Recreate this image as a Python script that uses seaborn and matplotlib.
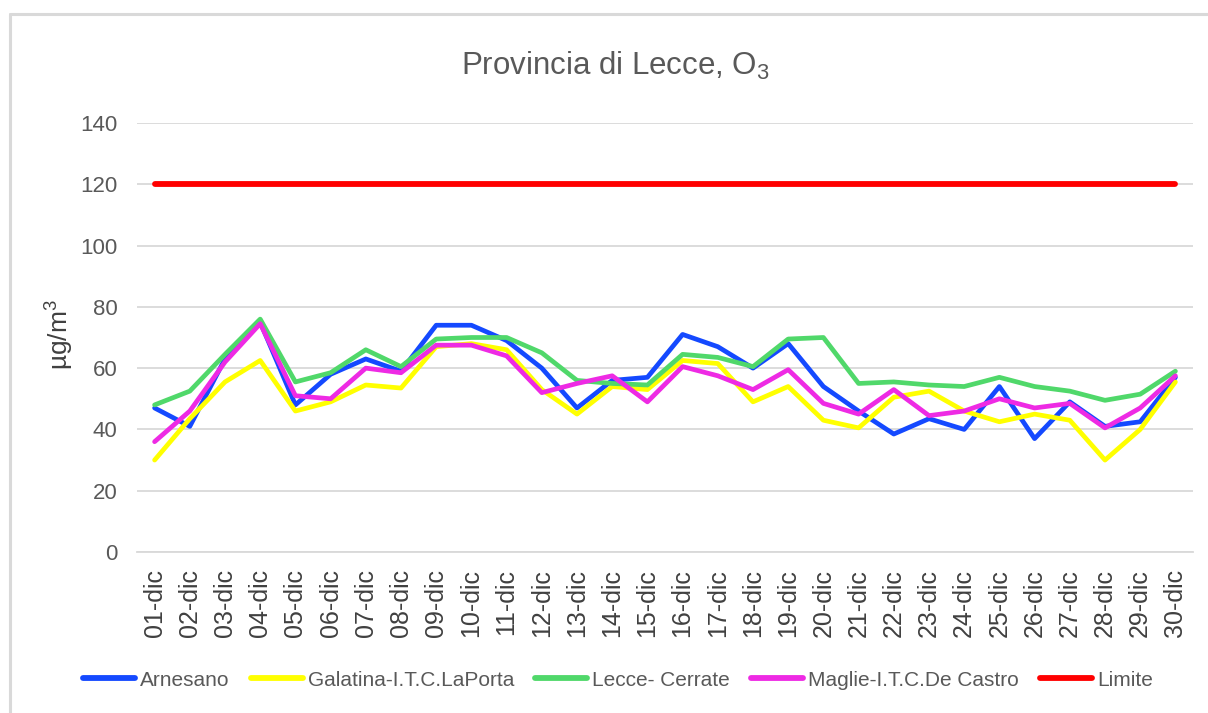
import pandas as pd
import numpy as np
import matplotlib
matplotlib.use("Agg")
import matplotlib.pyplot as plt
import seaborn as sns
from matplotlib.lines import Line2D

# daily O3 values (µg/m3)
days = [f"{d:02d}-dic" for d in range(1, 31)]
arnesano = [47, 41, 63, 75, 48, 58, 63, 59, 74, 74, 69, 60, 47, 56, 57,
            71, 67, 60, 68, 54, 46, 38.5, 43.5, 40, 54, 37, 49, 41, 42.5, 57]
galatina = [30, 43.5, 55.5, 62.5, 46, 49, 54.5, 53.5, 67, 68, 66, 53, 45, 54, 53,
            62.5, 61.5, 49, 54, 43, 40.5, 50.5, 52.5, 46, 42.5, 45, 43, 30, 40, 55.5]
lecce = [48, 52.5, 64.5, 76, 55.5, 58.5, 66, 60.5, 69.5, 70, 70, 65, 56, 55, 54.5,
         64.5, 63.5, 60.5, 69.5, 70, 55, 55.5, 54.5, 54, 57, 54, 52.5, 49.5, 51.5, 59]
maglie = [36, 46, 62, 74.5, 51, 50, 60, 58.5, 67.5, 67.5, 64, 52, 55, 57.5, 49,
          60.5, 57.5, 53, 59.5, 48.5, 45, 53, 44.5, 46, 50, 47, 48.5, 40.5, 47, 57.5]
limite = [120] * 30

series = ["Arnesano", "Galatina-I.T.C.LaPorta", "Lecce- Cerrate",
          "Maglie-I.T.C.De Castro", "Limite"]
colors = ["#1449FF", "#FFFF00", "#50D86A", "#EE2AE4", "#FF0000"]

df = pd.DataFrame({"Giorno": days, series[0]: arnesano, series[1]: galatina,
                   series[2]: lecce, series[3]: maglie, series[4]: limite})
long_df = df.melt(id_vars="Giorno", var_name="Stazione", value_name="O3")

sns.set_style("white")
plt.rcParams['font.family'] = ['Liberation Sans', 'DejaVu Sans']
plt.rcParams['mathtext.fontset'] = 'custom'
plt.rcParams['mathtext.rm'] = 'Liberation Sans'
plt.rcParams['mathtext.it'] = 'Liberation Sans'

fig = plt.figure(figsize=(12.08, 7.13), dpi=100)
ax = fig.add_axes([137/1208, 1-552/713, (1193-137)/1208, (552-123)/713])

sns.lineplot(data=long_df, x="Giorno", y="O3", hue="Stazione", hue_order=series,
             palette=colors, linewidth=3.4, sort=False, ax=ax)
# thicker limit line
ax.lines[4].set_linewidth(4.2)

ax.set_xlim(-0.5, 29.5)
ax.set_ylim(0, 140)
ax.set_yticks(range(0, 141, 20))
ax.grid(axis="y", color="#d9d9d9", linewidth=1.3)
ax.set_axisbelow(True)
for s in ["top", "right", "left"]:
    ax.spines[s].set_visible(False)
ax.spines["bottom"].set_color("#d9d9d9")
ax.spines["bottom"].set_linewidth(1.3)

ax.set_xticks(np.arange(30))
ax.set_xticklabels(days, rotation=90, fontsize=18, color="#404040")
ax.set_xticks(np.arange(30) + 0.5, minor=True)
ax.tick_params(axis="x", which="major", length=0, pad=12)
ax.tick_params(axis="x", which="minor", length=7, color="#d9d9d9", width=1.3)
ax.tick_params(axis="y", length=0, pad=14, labelsize=16, labelcolor="#595959")

ax.set_xlabel("")
ax.set_ylabel("")
fig.text(60/1208, 1-335/713, r"µg/m$^3$", fontsize=19, color="#404040",
         rotation=90, ha="center", va="center")
fig.text(615/1208, 1-66/713, r"Provincia di Lecce, O$_3$", fontsize=22.5,
         color="#595959", ha="center", va="center")

handles = [Line2D([], [], color=c, linewidth=4.2) for c in colors]
ax.legend(handles, series, loc="center", bbox_to_anchor=(618/1208, (713-680)/713),
          bbox_transform=fig.transFigure, ncol=5, frameon=False, fontsize=15,
          handlelength=2.5, handletextpad=0.25, columnspacing=1.0,
          labelcolor="#595959")

# outer frame (left and top only, as in the reference)
fig.add_artist(Line2D([10/1208, 10/1208], [0, 1-14/713], color="#d9d9d9",
                      linewidth=2.2, transform=fig.transFigure))
fig.add_artist(Line2D([10/1208, 1], [1-14/713, 1-14/713], color="#d9d9d9",
                      linewidth=2.2, transform=fig.transFigure))

fig.savefig("out.png", dpi=100)
